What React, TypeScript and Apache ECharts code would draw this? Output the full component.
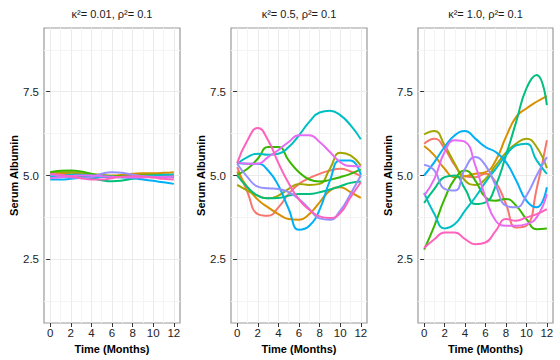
import React, { useEffect, useRef } from "react";
import * as echarts from "echarts";

const months = [0, 1, 2, 3, 4, 5, 6, 7, 8, 9, 10, 11, 12];
const xTicks = [0, 2, 4, 6, 8, 10, 12];
const xMinor = [1, 3, 5, 7, 9, 11];
const yTicks = [2.5, 5, 7.5];
const yMinor = [1.25, 3.75, 6.25, 8.75];
const panelTitles = ["κ²= 0.01, ρ²= 0.1", "κ²= 0.5, ρ²= 0.1", "κ²= 1.0, ρ²= 0.1"];
const colors = ["#F8766D", "#D89000", "#A3A500", "#39B600", "#00BF7D", "#00BFC4", "#00B0F6", "#9590FF", "#E76BF3", "#FF62BC"];

// kappa^2 = 0.01
const panelA: number[][] = [
  [5.05, 5.05, 5.03, 5.0, 4.98, 4.97, 4.97, 4.98, 5.0, 5.02, 5.03, 5.02, 5.0],
  [5.0, 5.05, 5.08, 5.07, 5.04, 5.02, 5.0, 5.02, 5.05, 5.07, 5.07, 5.08, 5.1],
  [5.08, 5.1, 5.1, 5.06, 5.02, 4.98, 4.96, 4.97, 5.0, 5.03, 5.04, 5.02, 5.0],
  [5.1, 5.14, 5.15, 5.12, 5.05, 5.0, 4.98, 4.98, 5.0, 5.0, 4.99, 4.98, 4.97],
  [4.95, 4.98, 5.0, 4.98, 4.92, 4.86, 4.83, 4.85, 4.9, 4.95, 4.97, 4.96, 4.95],
  [4.98, 5.0, 5.02, 5.02, 5.0, 4.98, 4.96, 4.95, 4.96, 4.98, 5.0, 5.02, 5.03],
  [4.88, 4.88, 4.9, 4.93, 4.95, 4.96, 4.96, 4.95, 4.92, 4.88, 4.84, 4.8, 4.75],
  [5.02, 4.98, 4.94, 4.92, 4.95, 5.05, 5.1, 5.08, 5.02, 4.98, 4.96, 4.95, 4.95],
  [4.92, 4.95, 4.98, 5.0, 5.0, 4.98, 4.96, 4.95, 4.94, 4.94, 4.95, 4.96, 4.98],
  [5.05, 5.02, 4.98, 4.92, 4.88, 4.88, 4.92, 4.96, 4.98, 4.97, 4.94, 4.9, 4.88],
];

// kappa^2 = 0.5
const panelB: number[][] = [
  [5.25, 4.5, 3.85, 3.8, 4.05, 4.45, 4.75, 4.92, 5.05, 5.15, 5.2, 5.12, 4.98],
  [5.12, 4.65, 4.28, 4.05, 3.85, 3.7, 3.68, 3.85, 4.2, 4.55, 4.65, 4.5, 4.33],
  [4.72, 4.55, 4.4, 4.32, 4.4, 4.6, 4.75, 4.72, 4.75, 5.2, 5.68, 5.6, 5.3],
  [5.02, 5.2, 5.5, 5.85, 5.85, 5.45, 5.1, 4.88, 4.82, 4.87, 4.95, 5.05, 5.18],
  [5.0, 4.65, 4.4, 4.32, 4.33, 4.4, 4.45, 4.45, 4.5, 4.58, 4.68, 4.78, 4.82],
  [5.35, 5.55, 5.65, 5.62, 5.65, 5.85, 6.2, 6.6, 6.88, 6.93, 6.8, 6.5, 6.08],
  [5.37, 5.35, 5.35, 5.15, 4.7, 4.0, 3.38, 3.5, 3.98, 4.85, 5.45, 5.45, 5.02],
  [5.35, 4.95, 4.67, 4.62, 4.6, 4.5, 4.3, 4.0, 3.72, 3.68, 3.95, 4.45, 5.0],
  [5.4, 5.35, 5.35, 5.55, 5.76, 6.0, 6.2, 6.2, 6.0, 5.7, 5.4, 5.28, 5.27],
  [5.37, 6.05, 6.42, 6.05, 5.37, 4.77, 4.28, 3.98, 3.78, 3.73, 3.88, 4.35, 4.8],
];

// kappa^2 = 1.0
const panelC: number[][] = [
  [5.95, 6.1, 5.8, 5.3, 4.98, 4.95, 5.05, 4.8, 4.15, 3.45, 3.5, 4.6, 6.05],
  [5.88, 5.6, 5.2, 4.95, 4.98, 5.05, 5.1, 5.45, 6.15, 6.75, 7.0, 7.2, 7.37],
  [6.23, 6.33, 5.9, 5.35, 4.85, 4.72, 4.9, 5.3, 5.68, 5.95, 6.1, 5.85, 5.22],
  [2.79, 3.5, 4.3, 4.9, 5.15, 4.85, 4.35, 4.25, 4.3, 4.1, 3.7, 3.4, 3.42],
  [4.18, 4.6, 4.95, 5.0, 4.6, 4.15, 4.2, 4.7, 5.6, 6.6, 7.6, 8.0, 7.1],
  [4.48, 3.85, 3.42, 3.55, 3.95, 4.35, 4.8, 5.2, 5.6, 5.9, 5.95, 5.45, 5.05],
  [5.0, 5.4, 5.85, 6.2, 6.33, 6.1, 5.85, 5.7, 5.4, 4.85, 4.25, 4.05, 4.65],
  [5.32, 5.15, 4.6, 4.55, 5.2, 5.55, 5.3, 4.7, 4.1, 4.05, 4.4, 5.0, 5.55],
  [4.4, 4.9, 5.7, 6.05, 6.0, 5.3, 4.35, 3.65, 3.5, 3.5, 3.55, 3.75, 4.45],
  [2.84, 3.1, 3.3, 3.3, 3.1, 2.95, 3.0, 3.35, 3.7, 3.65, 3.75, 3.85, 4.0],
];

const panels = [panelA, panelB, panelC];
const FONT = "'Liberation Sans', Arial, Helvetica, sans-serif";

export default function App() {
  const ref = useRef<HTMLDivElement>(null);
  useEffect(() => {
    if (!ref.current) return;
    const chart = echarts.init(ref.current, undefined, { renderer: "svg" });
    const grids = [
      { left: 44, top: 28, width: 136, height: 295 },
      { left: 231, top: 28, width: 136, height: 295 },
      { left: 418, top: 28, width: 135, height: 295 },
    ];
    const xAxis: any[] = [];
    const yAxis: any[] = [];
    const series: any[] = [];
    const graphic: any[] = [];
    grids.forEach((g, i) => {
      xAxis.push({
        type: "value", gridIndex: i, min: -0.6, max: 12.6, position: "bottom",
        axisLine: { show: false },
        axisTick: { show: true, customValues: xTicks, length: 4, lineStyle: { color: "#333", width: 1 } },
        axisLabel: { customValues: xTicks, fontSize: 11.5, color: "#222", margin: 4, fontFamily: FONT },
        splitLine: { show: true, lineStyle: { color: "#ebebeb", width: 1 } },
        name: "Time (Months)", nameLocation: "middle", nameGap: 17,
        nameTextStyle: { fontWeight: "bold", fontSize: 11, color: "#000", fontFamily: FONT },
      });
      xAxis.push({
        type: "value", gridIndex: i, min: -0.6, max: 12.6, position: "top",
        axisLine: { show: false },
        axisTick: { show: false, customValues: xMinor },
        axisLabel: { show: false, customValues: xMinor },
        splitLine: { show: true, lineStyle: { color: "#f4f4f4", width: 1 } },
      });
      yAxis.push({
        type: "value", gridIndex: i, min: 0.6, max: 9.4, position: "left",
        axisLine: { show: false },
        axisTick: { show: true, customValues: yTicks, length: 4, lineStyle: { color: "#333", width: 1 } },
        axisLabel: {
          customValues: yTicks, fontSize: 11.5, color: "#222", margin: 5, fontFamily: FONT,
          formatter: (v: number) => v.toFixed(1),
        },
        splitLine: { show: true, lineStyle: { color: "#ebebeb", width: 1 } },
        name: "Serum Albumin", nameLocation: "middle", nameGap: 24, nameRotate: 90,
        nameTextStyle: { fontWeight: "bold", fontSize: 11, color: "#000", fontFamily: FONT },
      });
      yAxis.push({
        type: "value", gridIndex: i, min: 0.6, max: 9.4, position: "right",
        axisLine: { show: false },
        axisTick: { show: false, customValues: yMinor },
        axisLabel: { show: false, customValues: yMinor },
        splitLine: { show: true, lineStyle: { color: "#f4f4f4", width: 1 } },
      });
      panels[i].forEach((vals, j) => {
        series.push({
          type: "line",
          xAxisIndex: 2 * i,
          yAxisIndex: 2 * i,
          data: months.map((m, k) => [m, vals[k]]),
          smooth: 0.5,
          showSymbol: false,
          silent: true,
          z: 3,
          lineStyle: { width: 2, color: colors[j] },
          itemStyle: { color: colors[j] },
        });
      });
      graphic.push({
        type: "text",
        x: g.left + g.width / 2,
        y: 14,
        style: {
          text: panelTitles[i], textAlign: "center", textVerticalAlign: "middle",
          fontSize: 11, fontFamily: FONT, fill: "#1a1a1a",
        },
      });
    });
    chart.setOption({
      animation: false,
      backgroundColor: "#ffffff",
      grid: grids.map((g) => ({ ...g, show: true, borderColor: "#999999", borderWidth: 1.2, backgroundColor: "#ffffff" })),
      xAxis,
      yAxis,
      series,
      graphic,
    });
    return () => chart.dispose();
  }, []);
  return (
    <div
      ref={ref}
      style={{ position: "fixed", left: 0, top: 0, width: 560, height: 360, background: "#fff" }}
    />
  );
}
